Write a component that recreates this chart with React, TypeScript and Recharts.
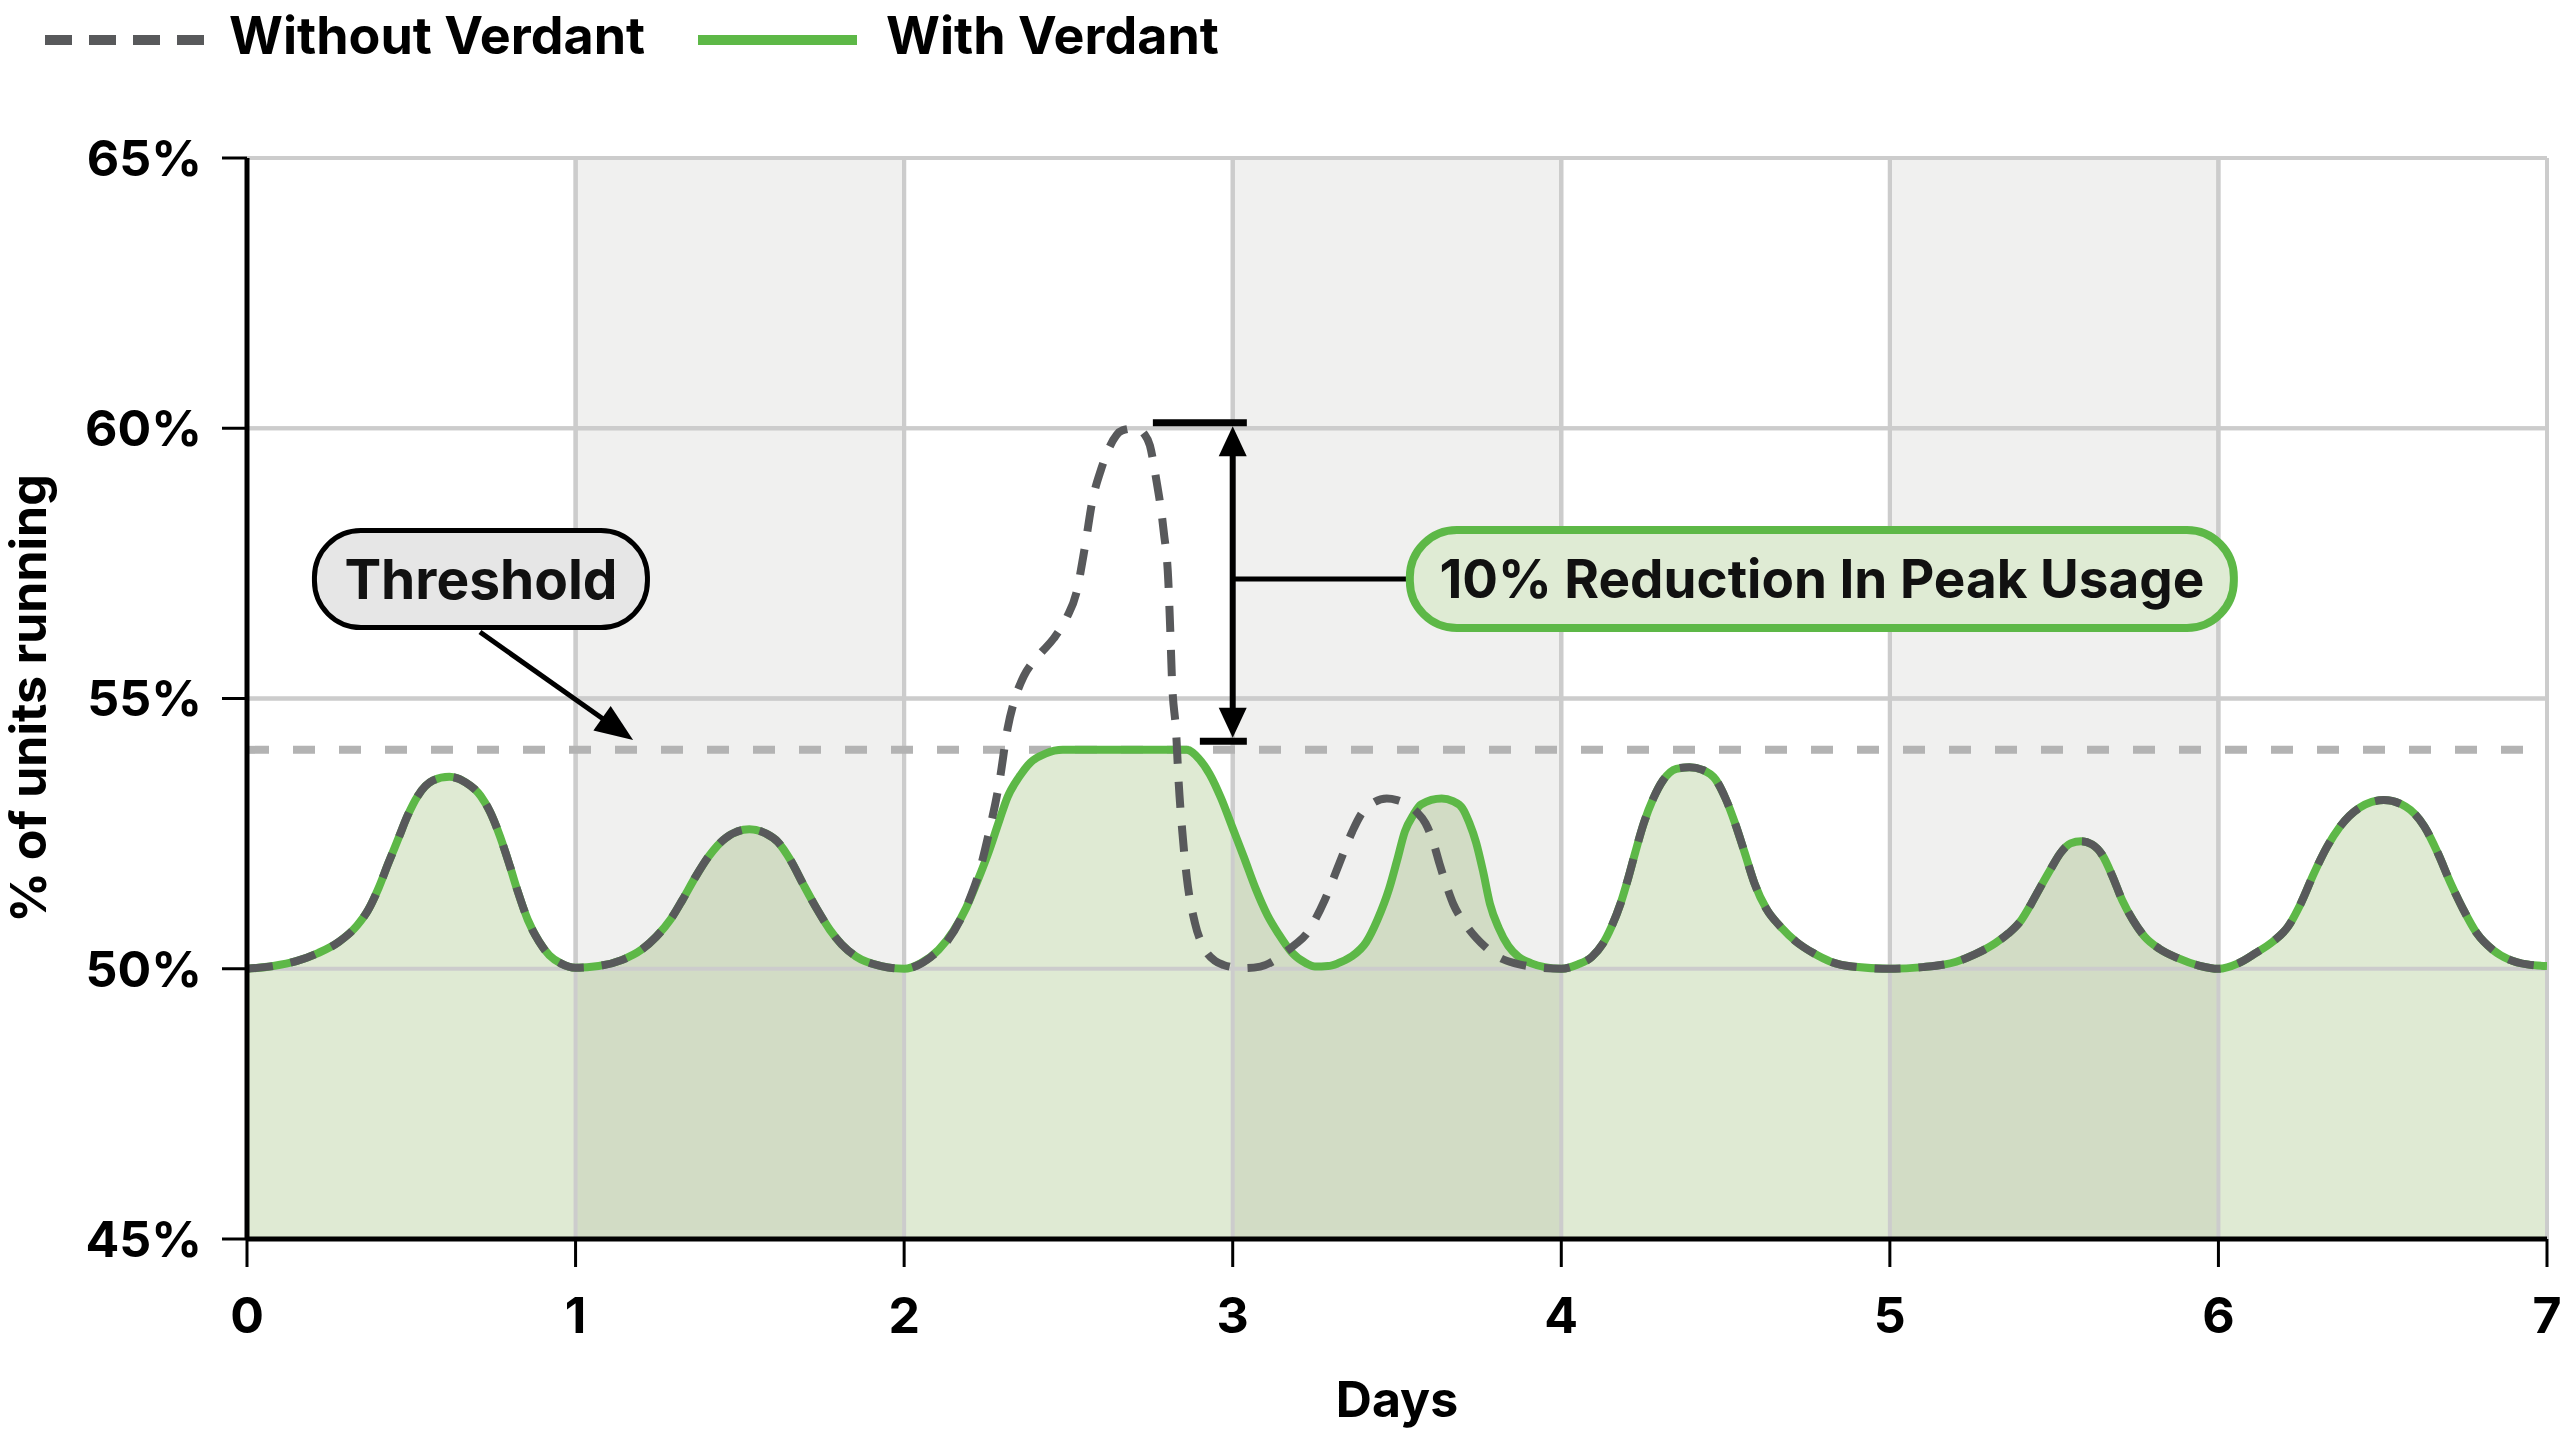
import React from 'react';
import {
  ComposedChart,
  Area,
  Line,
  XAxis,
  YAxis,
  CartesianGrid,
  ReferenceLine,
  ReferenceArea,
  ReferenceDot,
} from 'recharts';

// ---------- data ----------
const dayTicks = [0, 1, 2, 3, 4, 5, 6, 7];
const pctTicks = [45, 50, 55, 60, 65];
const shadedDays = [1, 3, 5];
const thresholdValue = 54.05;

// [day, % of units running]
const withVerdantPoints: [number, number][] = [
  [0, 50], [0.08, 50.05], [0.15, 50.14], [0.216, 50.29], [0.28, 50.5], [0.335, 50.8],
  [0.37, 51.1], [0.401, 51.5], [0.43, 51.95], [0.46, 52.4], [0.49, 52.85], [0.52, 53.2],
  [0.565, 53.48], [0.616, 53.55], [0.665, 53.45], [0.711, 53.2], [0.74, 52.9], [0.77, 52.45],
  [0.8, 51.9], [0.823, 51.45], [0.855, 50.9], [0.889, 50.5], [0.92, 50.25], [0.955, 50.1],
  [1.0, 50.02],
  [1.07, 50.05], [1.14, 50.16], [1.2, 50.35], [1.245, 50.59], [1.29, 50.92], [1.325, 51.27],
  [1.365, 51.7], [1.404, 52.07], [1.457, 52.42], [1.529, 52.58], [1.58, 52.5], [1.615, 52.35],
  [1.655, 52.0], [1.694, 51.55], [1.735, 51.1], [1.774, 50.72], [1.81, 50.45], [1.853, 50.23],
  [1.93, 50.05], [2.0, 50],
  [2.05, 50.1], [2.105, 50.35], [2.15, 50.7], [2.189, 51.13], [2.225, 51.65], [2.259, 52.19],
  [2.29, 52.75], [2.315, 53.18], [2.35, 53.55], [2.385, 53.82], [2.43, 53.98], [2.483, 54.05],
  [2.6, 54.05], [2.75, 54.05], [2.86, 54.05], [2.895, 53.9], [2.93, 53.6], [2.965, 53.15],
  [3.0, 52.6], [3.035, 52.05], [3.07, 51.48], [3.105, 51.0], [3.14, 50.64], [3.18, 50.3],
  [3.224, 50.1], [3.25, 50.04], [3.29, 50.05], [3.32, 50.1], [3.36, 50.22], [3.406, 50.49],
  [3.44, 50.9], [3.476, 51.48], [3.5, 52.0], [3.524, 52.54], [3.55, 52.85], [3.573, 53.04],
  [3.636, 53.15], [3.67, 53.1], [3.699, 52.97], [3.72, 52.7], [3.741, 52.33], [3.762, 51.8],
  [3.783, 51.2], [3.81, 50.75], [3.839, 50.42], [3.87, 50.22], [3.909, 50.1], [3.95, 50.03],
  [4.0, 50],
  [4.05, 50.08], [4.093, 50.22], [4.125, 50.45], [4.153, 50.78], [4.18, 51.2], [4.202, 51.64],
  [4.225, 52.15], [4.251, 52.69], [4.28, 53.15], [4.31, 53.49], [4.35, 53.7], [4.39, 53.73],
  [4.43, 53.68], [4.47, 53.5], [4.5, 53.15], [4.529, 52.69], [4.558, 52.15], [4.588, 51.58],
  [4.625, 51.1], [4.667, 50.78], [4.715, 50.5], [4.767, 50.29], [4.82, 50.13], [4.885, 50.04],
  [5.0, 50],
  [5.1, 50.03], [5.202, 50.13], [5.26, 50.27], [5.32, 50.47], [5.36, 50.65], [5.4, 50.9],
  [5.43, 51.2], [5.459, 51.52], [5.49, 51.85], [5.519, 52.14], [5.55, 52.32], [5.582, 52.36],
  [5.615, 52.3], [5.647, 52.1], [5.677, 51.72], [5.707, 51.27], [5.74, 50.9], [5.776, 50.59],
  [5.82, 50.37], [5.875, 50.2], [5.94, 50.06], [6.0, 50],
  [6.06, 50.1], [6.113, 50.29], [6.165, 50.5], [6.212, 50.78], [6.25, 51.2], [6.291, 51.77],
  [6.33, 52.25], [6.37, 52.63], [6.43, 52.98], [6.503, 53.12], [6.57, 53.0], [6.627, 52.63],
  [6.667, 52.15], [6.707, 51.58], [6.745, 51.1], [6.786, 50.66], [6.835, 50.35], [6.885, 50.17],
  [6.94, 50.08], [7.0, 50.05],
];

const withoutVerdantPoints: [number, number][] = [
  [0, 50], [0.08, 50.05], [0.15, 50.14], [0.216, 50.29], [0.28, 50.5], [0.335, 50.8],
  [0.37, 51.1], [0.401, 51.5], [0.43, 51.95], [0.46, 52.4], [0.49, 52.85], [0.52, 53.2],
  [0.565, 53.48], [0.616, 53.55], [0.665, 53.45], [0.711, 53.2], [0.74, 52.9], [0.77, 52.45],
  [0.8, 51.9], [0.823, 51.45], [0.855, 50.9], [0.889, 50.5], [0.92, 50.25], [0.955, 50.1],
  [1.0, 50.02],
  [1.07, 50.05], [1.14, 50.16], [1.2, 50.35], [1.245, 50.59], [1.29, 50.92], [1.325, 51.27],
  [1.365, 51.7], [1.404, 52.07], [1.457, 52.42], [1.529, 52.58], [1.58, 52.5], [1.615, 52.35],
  [1.655, 52.0], [1.694, 51.55], [1.735, 51.1], [1.774, 50.72], [1.81, 50.45], [1.853, 50.23],
  [1.93, 50.05], [2.0, 50],
  [2.04, 50.06], [2.08, 50.21], [2.13, 50.5], [2.172, 50.92], [2.2, 51.3], [2.224, 51.7],
  [2.259, 52.54], [2.29, 53.46], [2.315, 54.45], [2.34, 55.05], [2.364, 55.41], [2.41, 55.8],
  [2.455, 56.11], [2.495, 56.5], [2.524, 56.95], [2.55, 57.8], [2.573, 58.66], [2.6, 59.25],
  [2.622, 59.61], [2.664, 59.96], [2.706, 60.0], [2.73, 59.9], [2.748, 59.68], [2.766, 59.1],
  [2.79, 58.09], [2.804, 57.17], [2.81, 56.25], [2.815, 55.37], [2.828, 54.35], [2.835, 53.5],
  [2.846, 52.58], [2.86, 51.7], [2.885, 50.85], [2.916, 50.35], [2.945, 50.15], [2.972, 50.07],
  [3.03, 50.01], [3.084, 50.04], [3.12, 50.13], [3.154, 50.28], [3.19, 50.45], [3.224, 50.64],
  [3.25, 50.9], [3.28, 51.27], [3.322, 51.91], [3.364, 52.54], [3.39, 52.85], [3.42, 53.04],
  [3.469, 53.15], [3.5, 53.12], [3.531, 53.04], [3.56, 52.9], [3.587, 52.69], [3.61, 52.35],
  [3.629, 51.95], [3.65, 51.55], [3.671, 51.2], [3.705, 50.85], [3.741, 50.57], [3.775, 50.37],
  [3.811, 50.21], [3.86, 50.1], [3.909, 50.04], [4.0, 50],
  [4.05, 50.08], [4.093, 50.22], [4.125, 50.45], [4.153, 50.78], [4.18, 51.2], [4.202, 51.64],
  [4.225, 52.15], [4.251, 52.69], [4.28, 53.15], [4.31, 53.49], [4.35, 53.7], [4.39, 53.73],
  [4.43, 53.68], [4.47, 53.5], [4.5, 53.15], [4.529, 52.69], [4.558, 52.15], [4.588, 51.58],
  [4.625, 51.1], [4.667, 50.78], [4.715, 50.5], [4.767, 50.29], [4.82, 50.13], [4.885, 50.04],
  [5.0, 50],
  [5.1, 50.03], [5.202, 50.13], [5.26, 50.27], [5.32, 50.47], [5.36, 50.65], [5.4, 50.9],
  [5.43, 51.2], [5.459, 51.52], [5.49, 51.85], [5.519, 52.14], [5.55, 52.32], [5.582, 52.36],
  [5.615, 52.3], [5.647, 52.1], [5.677, 51.72], [5.707, 51.27], [5.74, 50.9], [5.776, 50.59],
  [5.82, 50.37], [5.875, 50.2], [5.94, 50.06], [6.0, 50],
  [6.06, 50.1], [6.113, 50.29], [6.165, 50.5], [6.212, 50.78], [6.25, 51.2], [6.291, 51.77],
  [6.33, 52.25], [6.37, 52.63], [6.43, 52.98], [6.503, 53.12], [6.57, 53.0], [6.627, 52.63],
  [6.667, 52.15], [6.707, 51.58], [6.745, 51.1], [6.786, 50.66], [6.835, 50.35], [6.885, 50.17],
  [6.94, 50.08], [7.0, 50.05],
];

// annotation anchors (data coordinates)
const thresholdLabel = { x: 0.712, y: 57.21, text: 'Threshold' };
const thresholdArrowFrom = { x: 0.709, y: 56.23 };
const thresholdArrowTo = { x: 1.175, y: 54.23 };
const peakBarTop = { x1: 2.757, x2: 3.043, y: 60.1 };
const peakBarBottom = { x1: 2.9, x2: 3.043, y: 54.21 };
const bracketX = 3.0;
const reductionLabel = { x: 4.793, y: 57.21, text: '10% Reduction In Peak Usage' };

const withData = withVerdantPoints.map(([d, v]) => ({ day: d, value: v }));
const withoutData = withoutVerdantPoints.map(([d, v]) => ({ day: d, value: v }));

// ---------- styles ----------
const GREEN = '#5db847';
const DARK = '#58595b';
const GRID = '#cccccc';
const FONT = 'Inter, "Noto Sans", sans-serif';

const W = 2560;
const H = 1445;

const ArrowShape = (props: any) => {
  const { x1, y1, x2, y2 } = props;
  const dx = x2 - x1;
  const dy = y2 - y1;
  const len = Math.hypot(dx, dy) || 1;
  const ux = dx / len;
  const uy = dy / len;
  const hl = 38;
  const hw = 15;
  const bx = x2 - ux * hl;
  const by = y2 - uy * hl;
  return (
    <g>
      <line x1={x1} y1={y1} x2={bx + ux * 4} y2={by + uy * 4} stroke="#000" strokeWidth={5} />
      <polygon
        points={`${x2},${y2} ${bx - uy * hw},${by + ux * hw} ${bx + uy * hw},${by - ux * hw}`}
        fill="#000"
      />
    </g>
  );
};

const DoubleArrowShape = (props: any) => {
  const { x1, y1, x2, y2 } = props;
  const top = Math.min(y1, y2) + 3.5;
  const bot = Math.max(y1, y2) - 3.5;
  const x = x1;
  const hl = 30;
  const hw = 14;
  return (
    <g>
      <line x1={x} y1={top + hl - 2} x2={x} y2={bot - hl + 2} stroke="#000" strokeWidth={6} />
      <polygon points={`${x},${top} ${x - hw},${top + hl} ${x + hw},${top + hl}`} fill="#000" />
      <polygon points={`${x},${bot} ${x - hw},${bot - hl} ${x + hw},${bot - hl}`} fill="#000" />
    </g>
  );
};

const makeBox = (
  text: string,
  w: number,
  h: number,
  fill: string,
  stroke: string,
  sw: number,
  fontSize: number
) => (props: any) => {
  const { cx, cy } = props;
  return (
    <g>
      <rect
        x={cx - w / 2}
        y={cy - h / 2}
        width={w}
        height={h}
        rx={h / 2 - 2}
        ry={h / 2 - 2}
        fill={fill}
        stroke={stroke}
        strokeWidth={sw}
      />
      <text
        x={cx}
        y={cy}
        textAnchor="middle"
        dominantBaseline="central"
        fontFamily={FONT}
        fontWeight={700}
        fontSize={fontSize}
        fill="#111"
      >
        {text}
      </text>
    </g>
  );
};

const ThresholdBox = makeBox(thresholdLabel.text, 333, 97, '#e6e6e6', '#000', 5, 55);
const ReductionBox = makeBox(reductionLabel.text, 824, 98, '#dfebd4', GREEN, 8, 53);

const YLabel = (props: any) => {
  const vb = props.viewBox || {};
  const cx = 28;
  const cy = (vb.y || 0) + (vb.height || 0) / 2;
  return (
    <text
      x={cx}
      y={cy}
      transform={`rotate(-90 ${cx} ${cy})`}
      textAnchor="middle"
      dominantBaseline="central"
      fontFamily={FONT}
      fontWeight={700}
      fontSize={50}
      fill="#000"
    >
      % of units running
    </text>
  );
};

const XLabel = (props: any) => {
  const vb = props.viewBox || {};
  const cx = (vb.x || 0) + (vb.width || 0) / 2;
  const cy = (vb.y || 0) + 160;
  return (
    <text
      x={cx}
      y={cy}
      textAnchor="middle"
      dominantBaseline="central"
      fontFamily={FONT}
      fontWeight={700}
      fontSize={50}
      fill="#000"
    >
      Days
    </text>
  );
};

const LegendBar = () => (
  <svg
    width={1300}
    height={90}
    style={{ position: 'absolute', left: 0, top: 0, overflow: 'visible' }}
  >
    <line x1={45} y1={40} x2={204} y2={40} stroke={DARK} strokeWidth={10} strokeDasharray="27 17" />
    <text x={229} y={54} fontFamily={FONT} fontWeight={700} fontSize={52} fill="#000">
      Without Verdant
    </text>
    <line x1={698} y1={40} x2={857} y2={40} stroke={GREEN} strokeWidth={10} />
    <text x={886} y={54} fontFamily={FONT} fontWeight={700} fontSize={52} fill="#000">
      With Verdant
    </text>
  </svg>
);

export default function App() {
  return (
    <div
      style={{
        position: 'fixed',
        left: 0,
        top: 0,
        width: W,
        height: H,
        background: '#fff',
        fontFamily: FONT,
        fontWeight: 700,
      }}
    >
      <ComposedChart width={W} height={H} margin={{ top: 158, right: 13, left: 0, bottom: 0 }}>
        <CartesianGrid stroke={GRID} strokeWidth={4} />
        <XAxis
          type="number"
          dataKey="day"
          domain={[0, 7]}
          ticks={dayTicks}
          interval={0}
          height={206}
          tickSize={28}
          tickMargin={30}
          axisLine={{ stroke: '#000', strokeWidth: 5 }}
          tickLine={{ stroke: '#000', strokeWidth: 3 }}
          tick={{ fill: '#000', fontSize: 50, fontWeight: 700, fontFamily: FONT }}
          label={<XLabel />}
          allowDataOverflow
        />
        <YAxis
          type="number"
          domain={[45, 65]}
          ticks={pctTicks}
          interval={0}
          width={247}
          tickSize={25}
          tickMargin={20}
          tickFormatter={(v: number) => `${v}%`}
          axisLine={{ stroke: '#000', strokeWidth: 5 }}
          tickLine={{ stroke: '#000', strokeWidth: 3 }}
          tick={{ fill: '#000', fontSize: 50, fontWeight: 700, fontFamily: FONT }}
          label={<YLabel />}
          allowDataOverflow
        />
        <Area
          data={withData}
          dataKey="value"
          type="monotone"
          stroke="none"
          fill="#dfead3"
          fillOpacity={1}
          dot={false}
          activeDot={false}
          isAnimationActive={false}
          zIndex={100}
        />
        {shadedDays.map((d) => (
          <ReferenceArea
            key={`band-${d}`}
            x1={d}
            x2={d + 1}
            y1={45}
            y2={65}
            fill="#141400"
            fillOpacity={0.062}
            stroke="none"
            zIndex={110}
          />
        ))}
        {dayTicks.map((d) => (
          <ReferenceLine key={`vx-${d}`} x={d} stroke={GRID} strokeWidth={4} zIndex={120} />
        ))}
        {pctTicks.map((p) => (
          <ReferenceLine key={`hy-${p}`} y={p} stroke={GRID} strokeWidth={4} zIndex={120} />
        ))}
        <ReferenceLine
          y={thresholdValue}
          stroke="#b3b3b3"
          strokeWidth={8}
          strokeDasharray="22 24"
          zIndex={130}
        />
        <Line
          data={withData}
          dataKey="value"
          type="monotone"
          stroke={GREEN}
          strokeWidth={8}
          dot={false}
          activeDot={false}
          isAnimationActive={false}
          zIndex={400}
        />
        <Line
          data={withoutData}
          dataKey="value"
          type="monotone"
          stroke={DARK}
          strokeWidth={8}
          strokeDasharray="26 18"
          dot={false}
          activeDot={false}
          isAnimationActive={false}
          zIndex={410}
        />
        <ReferenceLine
          segment={[
            { x: thresholdArrowFrom.x, y: thresholdArrowFrom.y },
            { x: thresholdArrowTo.x, y: thresholdArrowTo.y },
          ]}
          shape={ArrowShape}
          zIndex={1500}
        />
        <ReferenceLine
          segment={[
            { x: peakBarTop.x1, y: peakBarTop.y },
            { x: peakBarTop.x2, y: peakBarTop.y },
          ]}
          stroke="#000"
          strokeWidth={7}
          zIndex={1500}
        />
        <ReferenceLine
          segment={[
            { x: peakBarBottom.x1, y: peakBarBottom.y },
            { x: peakBarBottom.x2, y: peakBarBottom.y },
          ]}
          stroke="#000"
          strokeWidth={7}
          zIndex={1500}
        />
        <ReferenceLine
          segment={[
            { x: bracketX, y: peakBarTop.y },
            { x: bracketX, y: peakBarBottom.y },
          ]}
          shape={DoubleArrowShape}
          zIndex={1500}
        />
        <ReferenceLine
          segment={[
            { x: bracketX, y: reductionLabel.y },
            { x: reductionLabel.x, y: reductionLabel.y },
          ]}
          stroke="#000"
          strokeWidth={5}
          zIndex={1500}
        />
        <ReferenceDot
          x={thresholdLabel.x}
          y={thresholdLabel.y}
          r={1}
          shape={ThresholdBox}
          zIndex={1600}
        />
        <ReferenceDot
          x={reductionLabel.x}
          y={reductionLabel.y}
          r={1}
          shape={ReductionBox}
          zIndex={1600}
        />
      </ComposedChart>
      <LegendBar />
    </div>
  );
}
